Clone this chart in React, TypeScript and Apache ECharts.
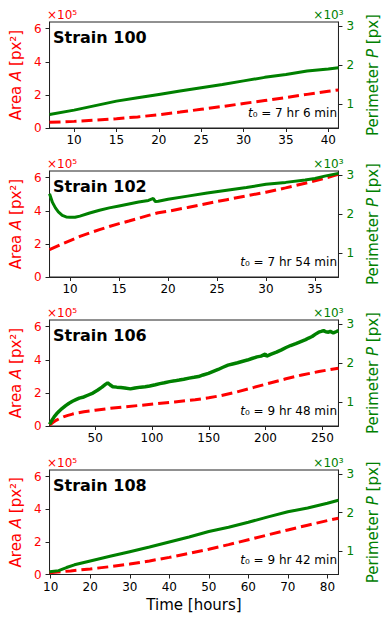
import React, { useEffect, useRef } from "react";
import * as echarts from "echarts";

const FONT = "DejaVu Sans";
const RED = "#ff0000";
const GREEN = "#008000";

const strainNames = ["Strain 100", "Strain 102", "Strain 106", "Strain 108"];
const t0Labels = ["7 hr 6 min", "7 hr 54 min", "9 hr 48 min", "9 hr 42 min"];

const xMin = [7.1, 7.9, 9.8, 9.7];
const xMax = [41.2, 37.4, 264.2, 82.8];
const xTicks = [
  [10, 15, 20, 25, 30, 35, 40],
  [10, 15, 20, 25, 30, 35],
  [50, 100, 150, 200, 250],
  [10, 20, 30, 40, 50, 60, 70, 80],
];
const areaTicks = [0, 2, 4, 6];
const perimTicks = [1, 2, 3];

// Strain 100
const s100Time = [7.1, 10, 12.5, 15, 17.5, 20, 22.5, 25, 27.5, 30, 32.5, 35, 37.5, 40, 41.2];
const s100Area = [0.34, 0.4, 0.47, 0.56, 0.67, 0.8, 0.96, 1.13, 1.3, 1.48, 1.66, 1.84, 2.03, 2.22, 2.3];
const s100Perim = [0.745, 0.855, 0.97, 1.085, 1.17, 1.255, 1.34, 1.425, 1.51, 1.6, 1.69, 1.765, 1.85, 1.9, 1.935];

// Strain 102
const s102AreaTime = [7.9, 9, 10, 11, 12, 13, 14, 15, 16, 17, 18, 19, 20, 22, 24, 26, 28, 30, 32, 34, 36, 37.4];
const s102Area = [1.65, 1.95, 2.2, 2.45, 2.66, 2.86, 3.05, 3.22, 3.38, 3.55, 3.72, 3.88, 3.97, 4.2, 4.44, 4.67, 4.9, 5.12, 5.38, 5.66, 5.96, 6.2];
const s102PerimTime = [7.9, 8.2, 8.5, 8.8, 9.2, 9.6, 10, 10.5, 11, 12, 13, 14, 15, 16, 17, 18, 18.5, 18.7, 19, 20, 22, 24, 26, 28, 30, 32, 34, 35, 36, 37.4];
const s102Perim = [2.52, 2.3, 2.16, 2.06, 1.97, 1.93, 1.92, 1.92, 1.95, 2.03, 2.1, 2.16, 2.21, 2.26, 2.31, 2.35, 2.4, 2.32, 2.33, 2.38, 2.46, 2.54, 2.61, 2.68, 2.76, 2.81, 2.87, 2.91, 2.97, 3.04];

// Strain 106
const s106AreaTime = [9.8, 13, 16, 19, 22, 26, 30, 35, 40, 50, 61, 75, 90, 105, 120, 138, 150, 161, 175, 189.7, 204, 218, 232, 247, 264.2];
const s106Area = [0.06, 0.22, 0.36, 0.46, 0.55, 0.64, 0.72, 0.8, 0.86, 0.95, 1.05, 1.15, 1.25, 1.35, 1.45, 1.59, 1.7, 1.84, 2.06, 2.33, 2.6, 2.85, 3.08, 3.29, 3.49];
const s106PerimTime = [9.8, 12, 14, 16, 18.4, 21, 24, 27, 30, 33, 36, 40, 44, 48, 52, 56, 59, 61, 63, 65.5, 69, 72.6, 76, 81, 85, 90, 94, 98, 103, 107, 111, 115.5, 120, 124, 128, 132.7, 137, 141, 145, 149.7, 154, 158.3, 162, 166.9, 171, 175.4, 180, 184, 188, 192.5, 196, 199.7, 201, 205, 209.6, 214, 218.1, 222, 226.7, 231, 235.3, 238, 241, 244, 246.8, 249, 251.1, 253, 255.4, 257, 259.7, 262, 264.2];
const s106Perim = [0.44, 0.55, 0.64, 0.71, 0.78, 0.85, 0.92, 0.98, 1.03, 1.07, 1.11, 1.14, 1.19, 1.24, 1.31, 1.39, 1.46, 1.5, 1.45, 1.4, 1.39, 1.38, 1.37, 1.345, 1.37, 1.39, 1.4, 1.42, 1.45, 1.48, 1.5, 1.53, 1.55, 1.57, 1.59, 1.62, 1.64, 1.66, 1.7, 1.74, 1.79, 1.84, 1.89, 1.95, 1.98, 2.01, 2.05, 2.08, 2.12, 2.16, 2.18, 2.23, 2.18, 2.23, 2.28, 2.34, 2.4, 2.45, 2.5, 2.55, 2.6, 2.64, 2.68, 2.74, 2.79, 2.81, 2.83, 2.8, 2.79, 2.81, 2.77, 2.8, 2.83];

// Strain 108
const s108AreaTime = [9.7, 15, 20, 25, 30, 35, 40, 45, 50, 55, 60, 65, 70, 75, 80, 82.8];
const s108Area = [0.1, 0.22, 0.34, 0.48, 0.64, 0.83, 1.05, 1.29, 1.55, 1.83, 2.13, 2.43, 2.73, 3.02, 3.3, 3.45];
const s108PerimTime = [9.7, 12, 14, 16, 20, 25, 30, 35, 40, 45, 50, 55, 60, 65, 70, 75, 80, 82.8];
const s108Perim = [0.47, 0.5, 0.58, 0.65, 0.75, 0.87, 0.99, 1.11, 1.24, 1.37, 1.51, 1.62, 1.75, 1.89, 2.02, 2.12, 2.24, 2.32];

const areaTimes = [s100Time, s102AreaTime, s106AreaTime, s108AreaTime];
const areaValues = [s100Area, s102Area, s106Area, s108Area];
const perimTimes = [s100Time, s102PerimTime, s106PerimTime, s108PerimTime];
const perimValues = [s100Perim, s102Perim, s106Perim, s108Perim];

const zip = (xs: number[], ys: number[]) => xs.map((x, i) => [x, ys[i]]);

const TOPS = [22, 171, 320, 470];
const HEIGHTS = [106, 106, 106, 104.5];
const LEFT = 47;
const RIGHT_EDGE = 343.5;

export default function App() {
  const ref = useRef<HTMLDivElement>(null);
  useEffect(() => {
    if (!ref.current) return;
    const chart = echarts.init(ref.current, undefined, { renderer: "svg" });
    const grids: any[] = [];
    const xAxes: any[] = [];
    const yAxes: any[] = [];
    const series: any[] = [];
    const graphics: any[] = [];
    for (let i = 0; i < 4; i++) {
      grids.push({
        left: LEFT,
        top: TOPS[i],
        width: RIGHT_EDGE - LEFT,
        height: HEIGHTS[i],
        show: true,
        borderColor: "#222",
        borderWidth: 1,
        backgroundColor: "transparent",
      });
      xAxes.push({
        type: "value",
        gridIndex: i,
        min: xMin[i],
        max: xMax[i],
        splitLine: { show: false },
        axisLine: { show: true, onZero: false, lineStyle: { color: "#222", width: 1 } },
        axisTick: { show: true, length: 4, lineStyle: { color: "#222" }, customValues: xTicks[i] },
        axisLabel: { color: "#000", fontSize: 12, fontFamily: FONT, margin: 6, customValues: xTicks[i] },
        name: i === 3 ? "Time [hours]" : "",
        nameLocation: "middle",
        nameGap: 23,
        nameTextStyle: { color: "#000", fontSize: 15, fontFamily: FONT },
      });
      yAxes.push({
        type: "value",
        gridIndex: i,
        position: "left",
        min: 0,
        max: 6.4,
        splitLine: { show: false },
        axisLine: { show: true, onZero: false, lineStyle: { color: "#222", width: 1 } },
        axisTick: { show: true, length: 4, lineStyle: { color: "#222" }, customValues: areaTicks },
        axisLabel: { color: RED, fontSize: 12, fontFamily: FONT, margin: 8, customValues: areaTicks },
        name: "Area {i|A} [px²]",
        nameLocation: "middle",
        nameGap: 24,
        nameRotate: 90,
        nameTextStyle: {
          color: RED,
          fontSize: 15,
          fontFamily: FONT,
          rich: { i: { fontStyle: "italic", color: RED, fontSize: 15, fontFamily: FONT } },
        },
      });
      yAxes.push({
        type: "value",
        gridIndex: i,
        position: "right",
        min: 0.4,
        max: 3.1,
        splitLine: { show: false },
        axisLine: { show: true, onZero: false, lineStyle: { color: "#222", width: 1 } },
        axisTick: { show: true, length: 4, lineStyle: { color: "#222" }, customValues: perimTicks },
        axisLabel: { color: GREEN, fontSize: 12, fontFamily: FONT, margin: 8, customValues: perimTicks },
        name: "Perimeter {i|P} [px]",
        nameLocation: "middle",
        nameGap: 22,
        nameRotate: 90,
        nameTextStyle: {
          color: GREEN,
          fontSize: 15,
          fontFamily: FONT,
          rich: { i: { fontStyle: "italic", color: GREEN, fontSize: 15, fontFamily: FONT } },
        },
      });
      series.push({
        type: "line",
        xAxisIndex: i,
        yAxisIndex: 2 * i,
        data: zip(areaTimes[i], areaValues[i]),
        showSymbol: false,
        symbol: "none",
        smooth: false,
        lineStyle: { color: RED, width: 3, type: [11, 5] },
        z: 2,
      });
      series.push({
        type: "line",
        xAxisIndex: i,
        yAxisIndex: 2 * i + 1,
        data: zip(perimTimes[i], perimValues[i]),
        showSymbol: false,
        symbol: "none",
        smooth: false,
        lineStyle: { color: GREEN, width: i === 2 ? 3.5 : 3 },
        z: 3,
      });
      const top = TOPS[i];
      const bottom = TOPS[i] + HEIGHTS[i];
      graphics.push({
        type: "text",
        x: 53,
        y: top + 15.5,
        style: {
          text: strainNames[i],
          font: `bold 16px "${FONT}"`,
          fill: "#000",
          align: "left",
          verticalAlign: "middle",
        },
      });
      graphics.push({
        type: "text",
        x: 337,
        y: bottom - 15,
        style: {
          text: `{i|t}₀ = ${t0Labels[i]}`,
          font: `12px "${FONT}"`,
          fill: "#000",
          align: "right",
          verticalAlign: "middle",
          rich: { i: { fontStyle: "italic", fontSize: 12, fontFamily: FONT, fill: "#000" } },
        },
      });
      graphics.push({
        type: "text",
        x: LEFT,
        y: top - 7,
        style: {
          text: "×10⁵",
          font: `12px "${FONT}"`,
          fill: RED,
          align: "left",
          verticalAlign: "middle",
        },
      });
      graphics.push({
        type: "text",
        x: RIGHT_EDGE,
        y: top - 7,
        style: {
          text: "×10³",
          font: `12px "${FONT}"`,
          fill: GREEN,
          align: "right",
          verticalAlign: "middle",
        },
      });
    }
    chart.setOption({
      animation: false,
      backgroundColor: "#fff",
      textStyle: { fontFamily: FONT },
      grid: grids,
      xAxis: xAxes,
      yAxis: yAxes,
      series,
      graphic: graphics,
    });
    return () => chart.dispose();
  }, []);
  return (
    <div
      ref={ref}
      style={{ position: "fixed", left: 0, top: 0, width: 388, height: 622 }}
    />
  );
}
